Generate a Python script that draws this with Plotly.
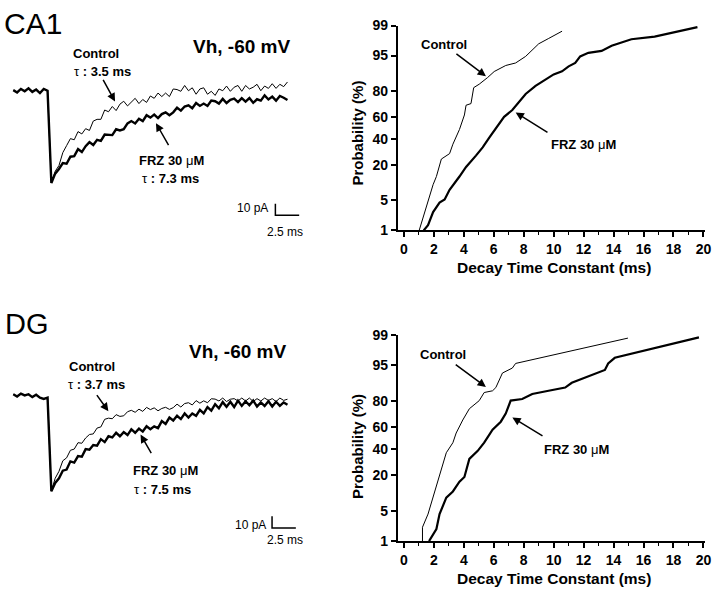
import plotly.graph_objects as go
from statistics import NormalDist

W, H = 720, 599
FONT = "Liberation Sans, Arial, Helvetica, sans-serif"

# ---------------- data ----------------
DT_MS = 0.4  # sample interval of the displayed current traces (ms)

CA1_CONTROL_PA = [0.5, -1.5, 1.5, -0.5, 2, -1, 1, -2, 1.5, 0,
                  -79, -69, -64, -53, -47,
                  -41, -42, -35, -37, -32.5, -34, -26, -24.5, -24.5, -16.5,
                  -18, -13.5, -17, -11.5, -9, -13, -9.5, -6.5, -11, -7.5,
                  -10, -4.5, -6.5, -2, -5,
                  -2, -5, 1.5, 1, -0.5, 4.5, 0, 2.5, -3, 1.5,
                  2.5, -3, -0.5, -4, 1.5, 0, 4, -0.5, 3, 4.5,
                  -0.5, 4.5, 1.5, 3, 5.5, 0, 4, 2, 6, 2,
                  5.5, 3.5, 7.5]
CA1_FRZ_PA = [0.5, -1.5, 1.5, -0.5, 2, -1, 1, -2, 1.5, 0,
              -79, -71, -67, -62, -62.5,
              -56.5, -56, -50, -52.5, -47.5, -44, -46.5, -42, -43, -37.5,
              -37.5, -38, -33, -34, -33, -28, -26, -28, -24, -26,
              -21, -23, -20.5, -23.5, -20, -18.5, -21, -18.5, -14.5, -17,
              -13.5, -12.5, -15, -10.5, -13, -11, -13, -8.5, -9, -11,
              -7, -10.5, -7.8, -6.8, -9.8, -6.3, -9.3, -6.3, -10.3, -7.3,
              -8.5, -4, -7.5, -5, -8.5, -4.5, -6, -8]
DG_CONTROL_PA = [1, -1, 1.5, 0, 1, -1.5, 0.5, -2, -3, -2,
                 -82, -71, -65, -56, -53.5,
                 -47, -46, -40.5, -41, -36.5, -33.5, -33, -28, -27, -20.5,
                 -19.5, -20, -16.5, -18, -17.5, -14, -12.8, -14.5, -11.8, -13.7,
                 -10.3, -12.2, -10.7, -13.2, -11.2, -10.2, -12, -10.5, -7.5, -10,
                 -7, -6.3, -8.2, -4.5, -6.7, -4.7, -6.3, -2.9, -3.2, -4.8,
                 -2.3, -5.3, -3.3, -2.8, -4.8, -2.3, -4.8, -2.3, -5.3, -2.8,
                 -4.8, -2.3, -4.3, -2.8, -5.3, -2.3, -4.3, -3.3]
DG_FRZ_PA = [1, -1, 1.5, 0, 1, -1.5, 0.5, -2, -3, -2,
             -82, -75, -71, -64.5, -63.5,
             -56.5, -57.5, -52, -52.5, -46, -46.5, -42.5, -43, -37.5, -40,
             -35, -36, -32, -35, -31.5, -34, -29, -32, -28.5, -31,
             -26.5, -29, -26.5, -28, -22, -24.5, -19, -21.5, -17.5, -20.3,
             -15.5, -19, -15.5, -17.5, -12.5, -15.5, -10, -13, -7.5, -11,
             -5.8, -9.8, -5.5, -10, -4.5, -9, -5, -8.5, -4.5, -9.5,
             -6, -9, -5, -9.5, -5.5, -9, -6, -8]

# cumulative distributions of decay time constants
CA1_CTRL_TAU = [1.02, 1.32, 1.61, 1.95, 2.17, 2.5, 3.05, 3.27, 3.71, 4.04, 4.15, 4.48,
                4.66, 5.03, 5.59, 6.03, 6.8, 7.46, 8.13, 9.0, 9.67, 10.56]
CA1_CTRL_PROB = [1.0, 2.3, 4.5, 9.9, 13.5, 24, 28, 35.6, 48.6, 61.6, 69.7, 71,
                 82, 84, 87.4, 90, 92.2, 93, 94.8, 97.2, 97.9, 98.6]
CA1_FRZ_TAU = [1.32, 1.61, 1.95, 2.38, 2.72, 3.05, 3.71, 4.15, 4.81, 5.26, 5.7, 6.14,
               6.69, 7.24, 7.68, 8.13, 8.79, 9.45, 10.0, 10.56, 11.0, 11.44, 11.77,
               12.32, 13.2, 13.87, 15.19, 16.74, 18.06, 19.6]
CA1_FRZ_PROB = [1.0, 1.36, 2.8, 4.5, 5.2, 8, 13.5, 18.8, 26.5, 33, 41.3, 50,
                60, 65.8, 72, 78, 83, 86.6, 88.8, 90.1, 91.9, 93, 94.8,
                95.6, 96, 96.9, 97.8, 98.1, 98.5, 98.9]
DG_CTRL_TAU = [1.24, 1.24, 1.61, 1.95, 2.17, 2.38, 2.83, 3.27, 3.49, 3.93, 4.37, 5.03,
               5.36, 5.92, 6.14, 6.58, 7.24, 7.46, 14.96]
DG_CTRL_PROB = [1.0, 2.2, 4.3, 8.9, 14.5, 20, 37, 45.8, 54.5, 65.8, 74.6, 80.1,
                84.8, 85.7, 87.3, 92.9, 94.3, 95.4, 98.8]
DG_FRZ_TAU = [1.68, 2.17, 2.38, 2.83, 3.27, 3.71, 4.04, 4.37, 4.93, 5.36, 5.92, 6.47,
              6.8, 7.13, 7.9, 8.57, 9.66, 10.77, 11.21, 12.32, 13.42, 13.64, 14.08, 19.7]
DG_FRZ_PROB = [1.0, 2, 4.3, 8.9, 11.4, 16.2, 19, 31.9, 38.6, 45.8, 57.5, 64.4,
               71, 80.1, 81.1, 84, 85.7, 87.3, 89.4, 91.9, 93.8, 95.4, 96.5, 98.85]

PROB_TICKS = [1, 5, 20, 40, 60, 80, 95, 99]
TAU_TICKS = [0, 2, 4, 6, 8, 10, 12, 14, 16, 18, 20]
SCALE_PA = 10
SCALE_MS = 2.5

ND = NormalDist()


def z(p):
    return ND.inv_cdf(p / 100.0)


def times(vals):
    return [i * DT_MS for i in range(len(vals))]


def px(x):
    return x / W


def py(y):
    return 1 - y / H


fig = go.Figure()

# ---------------- traces ----------------
for vals, wd, ax in [(CA1_FRZ_PA, 2.4, ("x", "y")), (CA1_CONTROL_PA, 1.0, ("x", "y")),
                     (DG_FRZ_PA, 2.4, ("x3", "y3")), (DG_CONTROL_PA, 1.0, ("x3", "y3"))]:
    fig.add_trace(go.Scatter(x=times(vals), y=vals, mode="lines",
                             line=dict(color="black", width=wd),
                             xaxis=ax[0], yaxis=ax[1], hoverinfo="skip"))

# scale bars (10 pA, 2.5 ms)
for (t0, i0), ax in [((27.53, -106.7), ("x", "y")), ((27.18, -113.6), ("x3", "y3"))]:
    fig.add_trace(go.Scatter(x=[t0, t0, t0 + SCALE_MS], y=[i0 + SCALE_PA, i0, i0],
                             mode="lines", line=dict(color="black", width=1.5),
                             xaxis=ax[0], yaxis=ax[1], hoverinfo="skip"))

for tau, prob, wd, ax in [(CA1_CTRL_TAU, CA1_CTRL_PROB, 1.0, ("x2", "y2")),
                          (CA1_FRZ_TAU, CA1_FRZ_PROB, 2.2, ("x2", "y2")),
                          (DG_CTRL_TAU, DG_CTRL_PROB, 1.0, ("x4", "y4")),
                          (DG_FRZ_TAU, DG_FRZ_PROB, 2.2, ("x4", "y4"))]:
    fig.add_trace(go.Scatter(x=tau, y=[z(p) for p in prob], mode="lines",
                             line=dict(color="black", width=wd), cliponaxis=False,
                             xaxis=ax[0], yaxis=ax[1], hoverinfo="skip"))

# ---------------- axes ----------------
hidden = dict(visible=False, showgrid=False, zeroline=False, fixedrange=True)
tick_font = dict(family=FONT, size=14, color="black", weight="bold")


def prob_x(dom):
    return dict(domain=dom, range=[-0.417, 20.11], showline=True, linecolor="black",
                linewidth=1.5, ticks="outside", ticklen=5, tickwidth=1.5, tickcolor="black",
                tickvals=TAU_TICKS, ticktext=[str(v) for v in TAU_TICKS],
                tickfont=tick_font, showgrid=False, zeroline=False,
                minor=dict(ticks="outside", ticklen=3, tickwidth=1.2, dtick=1,
                           tickcolor="black", showgrid=False))


def prob_y(dom):
    return dict(domain=dom, range=[z(1), z(99)], showline=True, linecolor="black",
                linewidth=1.5, ticks="outside", ticklen=5, tickwidth=1.5, tickcolor="black",
                tickvals=[z(p) for p in PROB_TICKS], ticktext=[str(p) for p in PROB_TICKS],
                tickfont=tick_font, showgrid=False, zeroline=False)


fig.update_layout(
    width=W, height=H, margin=dict(l=0, r=0, t=0, b=0), autosize=False,
    paper_bgcolor="white", plot_bgcolor="white", showlegend=False,
    font=dict(family=FONT, color="black"),
    xaxis=dict(hidden, domain=[0, px(340)], range=[-1.396, 34.02], anchor="y"),
    yaxis=dict(hidden, domain=[py(240), 1], range=[-129.17, 70.83], anchor="x"),
    xaxis2=dict(prob_x([px(401), px(711)]), anchor="y2"),
    yaxis2=dict(prob_y([py(228.5), py(18)]), anchor="x2"),
    xaxis3=dict(hidden, domain=[0, px(340)], range=[-1.396, 34.02], anchor="y3"),
    yaxis3=dict(hidden, domain=[py(560), py(300)], range=[-135, 81.67], anchor="x3"),
    xaxis4=dict(prob_x([px(401), px(711)]), anchor="y4"),
    yaxis4=dict(prob_y([py(547.7), py(336)]), anchor="x4"),
)

# ---------------- text ----------------
NORM = "<span style='font-weight:normal'>"


def label(text, x, y, size=13, bold=True, xanchor="center", angle=0):
    fig.add_annotation(text=text, x=px(x), y=py(y), xref="paper", yref="paper",
                       xanchor=xanchor, yanchor="middle", showarrow=False, textangle=angle,
                       font=dict(family=FONT, size=size, color="black",
                                 weight="bold" if bold else "normal"))


def arrow(tail, head):
    fig.add_annotation(text="", x=px(head[0]), y=py(head[1]), xref="paper", yref="paper",
                       ax=tail[0] - head[0], ay=tail[1] - head[1], axref="pixel", ayref="pixel",
                       showarrow=True, arrowhead=2, arrowsize=1.1, arrowwidth=1.5,
                       arrowcolor="black", standoff=0)


# panel letters
label("CA1", 2, 16, size=30, bold=False, xanchor="left")
label("DG", 3, 325, size=29, bold=False, xanchor="left")

# top-left
label("Vh, -60 mV", 244, 39.5, size=19)
label("Control", 97, 46.5)
label(NORM + "τ</span> : 3.5 ms", 103, 65)
label("FRZ 30 " + NORM + "μ</span>M", 173, 156.5)
label(NORM + "τ</span> : 7.3 ms", 172, 175.5)
arrow((103.3, 73), (116, 96))
arrow((170.7, 141.7), (157.3, 118.3))
label("10 pA", 272, 205, size=12, bold=False, xanchor="right")
label("2.5 ms", 287, 230, size=12, bold=False)

# bottom-left
label("Vh, -60 mV", 239, 353, size=19)
label("Control", 93, 368)
label(NORM + "τ</span> : 3.7 ms", 97, 387)
label("FRZ 30 " + NORM + "μ</span>M", 166.5, 475)
label(NORM + "τ</span> : 7.5 ms", 164, 495)
arrow((96.7, 396.7), (109.3, 414.3))
arrow((153.3, 458.3), (141.7, 438.3))
label("10 pA", 270.5, 531, size=12, bold=False, xanchor="right")
label("2.5 ms", 287, 547, size=12, bold=False)

# top-right
label("Control", 448, 37)
label("FRZ 30 " + NORM + "μ</span>M", 588, 140)
arrow((459, 46.7), (490, 70))
arrow((553.3, 128.3), (520, 107.3))
label("Probability (%)", 361, 128, size=15, angle=-90)
label("Decay Time Constant (ms)", 558.5, 267, size=15.5)

# bottom-right
label("Control", 447, 356.5)
label("FRZ 30 " + NORM + "μ</span>M", 581, 454)
arrow((458.3, 366), (490, 389.3))
arrow((548.3, 440), (516.7, 420.7))
label("Probability (%)", 361, 450, size=15, angle=-90)
label("Decay Time Constant (ms)", 558.5, 586, size=15.5)

fig.write_html("out.html", config={"displayModeBar": False},
               post_script="document.body.style.margin='0';document.body.style.padding='0';"
                           "document.body.style.overflow='hidden';")
